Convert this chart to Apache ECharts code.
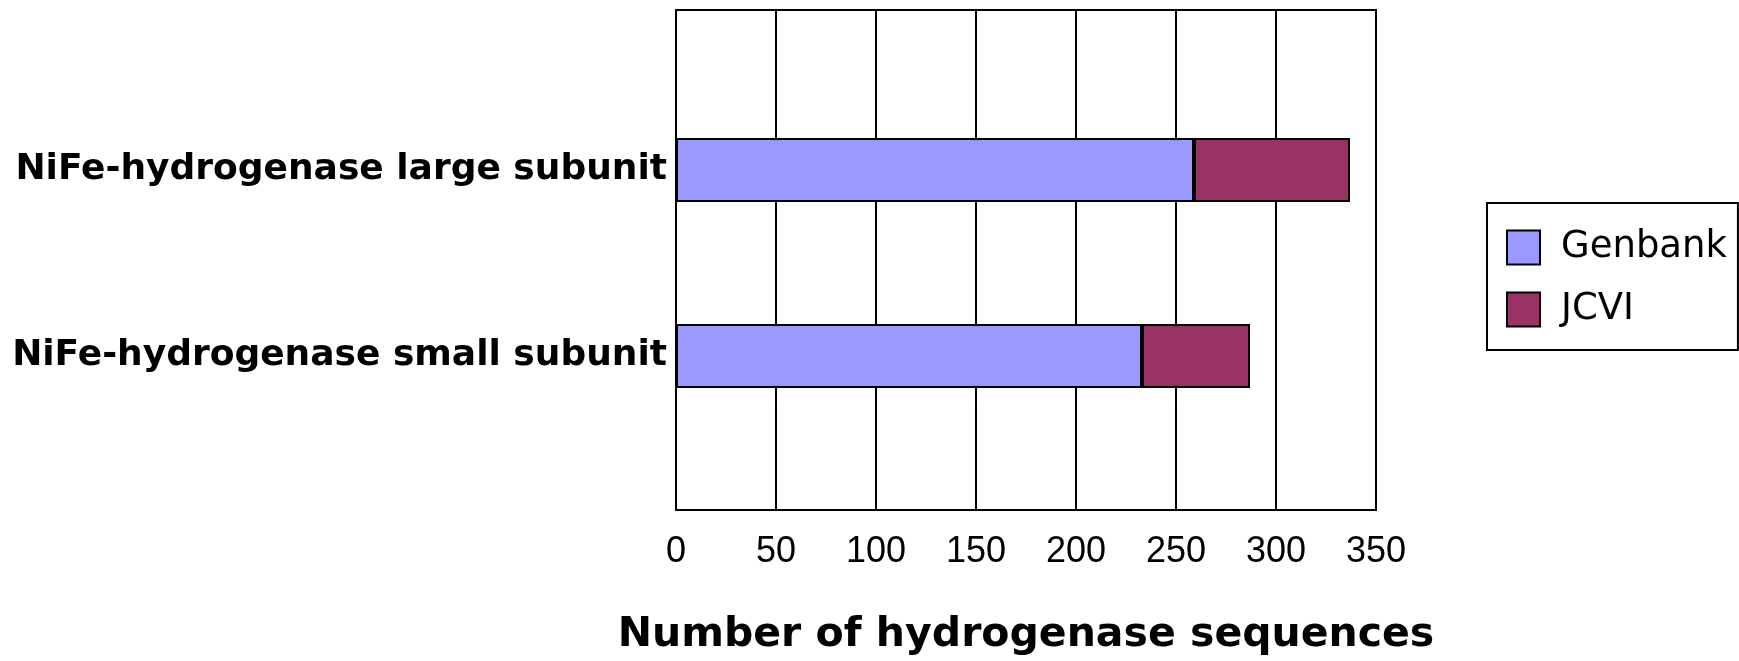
<!DOCTYPE html>
<html>
<head>
<meta charset="utf-8">
<script src="https://cdn.jsdelivr.net/npm/echarts@6/dist/echarts.min.js"></script>
<style>
html,body{margin:0;padding:0;background:#fff;}
#chart{width:1739px;height:661px;}
</style>
</head>
<body>
<div id="chart"></div>
<script>
const categories = ['NiFe-hydrogenase large subunit', 'NiFe-hydrogenase small subunit'];
const seriesNames = ['Genbank', 'JCVI'];
const genbank = [259, 233];
const jcvi = [78, 54];
const xTicks = [0, 50, 100, 150, 200, 250, 300, 350];
const axisTitle = 'Number of hydrogenase sequences';

const chart = echarts.init(document.getElementById('chart'), null, {renderer: 'canvas'});
const xMin = xTicks[0], xMax = xTicks[xTicks.length - 1], xStep = xTicks[1] - xTicks[0];

const option = {
  backgroundColor: '#fff',
  animation: false,
  grid: [
    {left: 676, right: 363, top: 10, bottom: 148, show: true, borderColor: '#000', borderWidth: 2, backgroundColor: 'transparent'},
    {left: 676, right: 363, top: 77, bottom: 212}
  ],
  xAxis: [
    {
      gridIndex: 0, type: 'value', min: xMin, max: xMax, interval: xStep,
      axisLine: {show: true, lineStyle: {color: '#000', width: 2}},
      axisTick: {show: false},
      splitLine: {show: true, lineStyle: {color: '#000', width: 2}},
      axisLabel: {color: '#000', fontSize: 36, fontFamily: 'Liberation Sans, Arial, sans-serif', margin: 24},
      name: axisTitle, nameLocation: 'middle', nameGap: 105,
      nameTextStyle: {color: '#000', fontSize: 41, fontWeight: 'bold', fontFamily: 'DejaVu Sans, sans-serif'}
    },
    {
      gridIndex: 1, type: 'value', min: xMin, max: xMax, interval: xStep, show: false
    }
  ],
  yAxis: [
    {gridIndex: 0, type: 'value', show: false, splitLine: {show: false}},
    {
      gridIndex: 1, type: 'category', data: categories, inverse: true,
      axisLine: {show: false}, axisTick: {show: false}, splitLine: {show: false},
      axisLabel: {color: '#000', fontSize: 36, fontWeight: 'bold', fontFamily: 'DejaVu Sans, sans-serif', margin: 9}
    }
  ],
  legend: {
    orient: 'vertical', left: 1487, top: 203,
    padding: [26, 11, 22, 19],
    itemWidth: 33, itemHeight: 34, itemGap: 25,
    borderColor: '#000', borderWidth: 2, backgroundColor: '#fff',
    icon: 'rect',
    itemStyle: {borderColor: '#000', borderWidth: 2},
    textStyle: {color: '#000', fontSize: 37, fontFamily: 'DejaVu Sans, sans-serif', padding: [0, 0, 0, 16]},
    data: seriesNames
  },
  series: [
    {
      name: seriesNames[0], type: 'bar', stack: 'total', xAxisIndex: 1, yAxisIndex: 1,
      barWidth: 64, data: genbank,
      itemStyle: {color: '#9999FF', borderColor: '#000', borderWidth: 2}
    },
    {
      name: seriesNames[1], type: 'bar', stack: 'total', xAxisIndex: 1, yAxisIndex: 1,
      barWidth: 64, data: jcvi,
      itemStyle: {color: '#993366', borderColor: '#000', borderWidth: 2}
    }
  ]
};
chart.setOption(option);
</script>
</body>
</html>
